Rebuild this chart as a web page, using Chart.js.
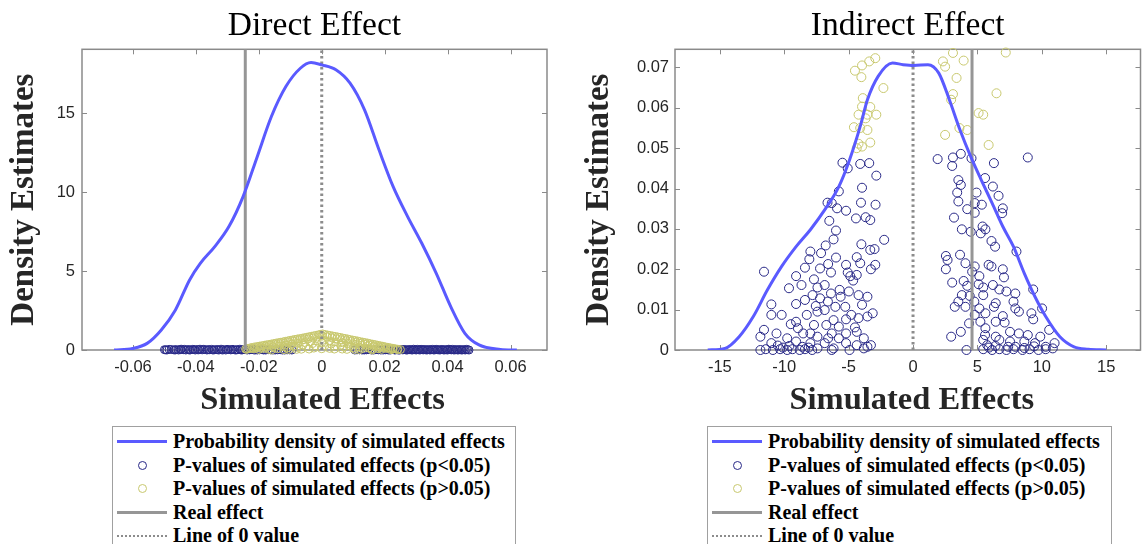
<!DOCTYPE html>
<html>
<head>
<meta charset="utf-8">
<script src="https://cdn.jsdelivr.net/npm/chart.js@4.4.1/dist/chart.umd.min.js"></script>
<style>
  body { margin: 0; background: #fff; width: 1146px; height: 544px; overflow: hidden; position: relative; }
  .panel { position: absolute; top: 0; }
  .legend { position: absolute; top: 426px; height: 140px; border: 1px solid #a0a0a0; background: #fff;
            box-sizing: border-box; padding-top: 3px; font-family: "Liberation Serif", serif;
            font-weight: bold; font-size: 20px; color: #000; }
  .legend .row { height: 23.5px; display: flex; align-items: center; white-space: nowrap; }
  .legend .smp { width: 50px; margin-left: 4px; margin-right: 6px; display: flex; justify-content: center; align-items: center; }
</style>
</head>
<body>
<canvas id="direct" class="panel" width="570" height="420" style="left:0"></canvas>
<canvas id="indirect" class="panel" width="571" height="420" style="left:575px"></canvas>
<div id="legDirect" class="legend" style="left:112px;width:404px"></div>
<div id="legIndirect" class="legend" style="left:707px;width:405px"></div>

<script>
// ---- Direct effect ----
const directTitle = "Direct Effect";
const directXRange = [-0.0762, 0.0716];
const directYMax = 19.05;
const directXTicks = [-0.06, -0.04, -0.02, 0, 0.02, 0.04, 0.06];
const directXTickLabels = ["-0.06", "-0.04", "-0.02", "0", "0.02", "0.04", "0.06"];
const directYTicks = [0, 5, 10, 15];
const directYTickLabels = ["0", "5", "10", "15"];
const directRealEffect = -0.0243;

// kernel density curve [x, density]
const directDensity = [
  [-0.0660, 0], [-0.0601, 0.10], [-0.0555, 0.42], [-0.0510, 1.27], [-0.0465, 2.54], [-0.0420, 4.44],
  [-0.0386, 5.49], [-0.0340, 6.55], [-0.0295, 7.82], [-0.0250, 9.72], [-0.0205, 12.25], [-0.0160, 14.79],
  [-0.0114, 16.69], [-0.0068, 17.85], [-0.0034, 18.21], [0.0000, 18.06], [0.0045, 17.75], [0.0090, 16.90],
  [0.0136, 15.21], [0.0182, 12.68], [0.0227, 10.35], [0.0273, 8.45], [0.0318, 6.76], [0.0364, 4.86],
  [0.0410, 2.75], [0.0455, 1.06], [0.0500, 0.32], [0.0568, 0.04], [0.0620, 0]
];

// simulated effects with p<0.05
const directSig = [
  [-0.0500, 0.02], [-0.0492, 0.00], [-0.0485, 0.04], [-0.0470, 0.01], [-0.0462, 0.03], [-0.0455, 0.00],
  [-0.0447, 0.05], [-0.0440, 0.02], [-0.0432, 0.00], [-0.0425, 0.03], [-0.0417, 0.01], [-0.0410, 0.04],
  [-0.0402, 0.00], [-0.0395, 0.02], [-0.0387, 0.05], [-0.0380, 0.01], [-0.0372, 0.03], [-0.0365, 0.00],
  [-0.0357, 0.02], [-0.0350, 0.04], [-0.0342, 0.01], [-0.0335, 0.03], [-0.0327, 0.00], [-0.0320, 0.05],
  [-0.0312, 0.02], [-0.0305, 0.00], [-0.0297, 0.03], [-0.0290, 0.01], [-0.0282, 0.04], [-0.0275, 0.00],
  [-0.0267, 0.02], [-0.0260, 0.05], [-0.0252, 0.01], [-0.0245, 0.03], [-0.0237, 0.00], [-0.0225, 0.02],
  [-0.0212, 0.00], [-0.0198, 0.01], [-0.0185, 0.00], [-0.0170, 0.02], [-0.0155, 0.00], [-0.0140, 0.01],
  [-0.0125, 0.00], [-0.0110, 0.01], [-0.0095, 0.00],
  [-0.0496, 0.01], [-0.0478, 0.03], [-0.0466, 0.00], [-0.0450, 0.02], [-0.0436, 0.04], [-0.0421, 0.00],
  [-0.0406, 0.03], [-0.0391, 0.01], [-0.0376, 0.04], [-0.0361, 0.02], [-0.0346, 0.00], [-0.0331, 0.02],
  [-0.0316, 0.00], [-0.0301, 0.04], [-0.0286, 0.02], [-0.0271, 0.01], [-0.0256, 0.00], [-0.0241, 0.02],
  [-0.0230, 0.01], [-0.0218, 0.03], [-0.0205, 0.00], [-0.0190, 0.02], [-0.0178, 0.00], [-0.0162, 0.01],
  [-0.0148, 0.00], [-0.0132, 0.02], [-0.0118, 0.00], [-0.0102, 0.01],
  [0.0105, 0.00], [0.0120, 0.01], [0.0135, 0.00], [0.0150, 0.02], [0.0165, 0.00], [0.0180, 0.01],
  [0.0195, 0.00], [0.0208, 0.02], [0.0218, 0.00], [0.0228, 0.03], [0.0236, 0.01], [0.0244, 0.00],
  [0.0252, 0.04], [0.0260, 0.02], [0.0268, 0.00], [0.0276, 0.03], [0.0284, 0.01], [0.0292, 0.05],
  [0.0300, 0.00], [0.0308, 0.02], [0.0316, 0.04], [0.0324, 0.01], [0.0332, 0.00], [0.0340, 0.03],
  [0.0348, 0.02], [0.0356, 0.00], [0.0364, 0.04], [0.0372, 0.01], [0.0380, 0.03], [0.0388, 0.00],
  [0.0396, 0.02], [0.0404, 0.05], [0.0412, 0.01], [0.0420, 0.00], [0.0428, 0.03], [0.0436, 0.01],
  [0.0444, 0.00], [0.0452, 0.02], [0.0460, 0.04], [0.0468, 0.00],
  [0.0112, 0.01], [0.0128, 0.00], [0.0142, 0.01], [0.0158, 0.00], [0.0172, 0.02], [0.0188, 0.00],
  [0.0202, 0.01], [0.0213, 0.00], [0.0223, 0.02], [0.0232, 0.00], [0.0240, 0.02], [0.0248, 0.00],
  [0.0256, 0.01], [0.0264, 0.03], [0.0272, 0.00], [0.0280, 0.02], [0.0288, 0.00], [0.0296, 0.02],
  [0.0304, 0.04], [0.0312, 0.00], [0.0320, 0.02], [0.0328, 0.03], [0.0336, 0.01], [0.0344, 0.00],
  [0.0352, 0.04], [0.0360, 0.01], [0.0368, 0.02], [0.0376, 0.00], [0.0384, 0.03], [0.0392, 0.01],
  [0.0400, 0.00], [0.0408, 0.02], [0.0416, 0.04], [0.0424, 0.01], [0.0432, 0.00], [0.0440, 0.03],
  [0.0448, 0.01], [0.0456, 0.00], [0.0464, 0.02]
];

// simulated effects with p>0.05
const directNonSig = [
  [-0.0242, 0.06], [-0.0235, 0.10], [-0.0228, 0.13], [-0.0220, 0.16], [-0.0212, 0.19], [-0.0205, 0.22],
  [-0.0197, 0.25], [-0.0190, 0.27], [-0.0182, 0.30], [-0.0175, 0.33], [-0.0167, 0.35], [-0.0160, 0.38],
  [-0.0152, 0.41], [-0.0145, 0.44], [-0.0137, 0.47], [-0.0130, 0.49], [-0.0122, 0.52], [-0.0115, 0.55],
  [-0.0107, 0.58], [-0.0100, 0.61], [-0.0092, 0.64], [-0.0085, 0.67], [-0.0077, 0.70], [-0.0070, 0.72],
  [-0.0062, 0.75], [-0.0055, 0.78], [-0.0047, 0.81], [-0.0040, 0.84], [-0.0032, 0.87], [-0.0025, 0.90],
  [-0.0017, 0.93], [-0.0010, 0.96], [-0.0004, 0.99], [0.0003, 1.02], [0.0010, 0.98], [0.0018, 0.95],
  [0.0026, 0.92], [0.0034, 0.89], [0.0042, 0.86], [0.0050, 0.83], [0.0058, 0.80], [0.0066, 0.76],
  [0.0074, 0.73], [0.0082, 0.70], [0.0090, 0.66], [0.0098, 0.63], [0.0106, 0.60], [0.0114, 0.57],
  [0.0122, 0.53], [0.0130, 0.50], [0.0138, 0.47], [0.0146, 0.44], [0.0154, 0.40], [0.0162, 0.37],
  [0.0170, 0.34], [0.0178, 0.30], [0.0186, 0.27], [0.0194, 0.24], [0.0202, 0.20], [0.0210, 0.17],
  [0.0218, 0.14], [0.0226, 0.11], [0.0234, 0.08], [0.0242, 0.05], [0.0250, 0.03],
  [-0.0238, 0.04], [-0.0224, 0.09], [-0.0208, 0.14], [-0.0193, 0.19], [-0.0178, 0.24], [-0.0163, 0.29],
  [-0.0148, 0.34], [-0.0133, 0.39], [-0.0118, 0.44], [-0.0103, 0.49], [-0.0088, 0.55], [-0.0073, 0.60],
  [-0.0058, 0.65], [-0.0043, 0.70], [-0.0028, 0.76], [-0.0013, 0.82], [0.0002, 0.88], [0.0017, 0.83],
  [0.0032, 0.77], [0.0047, 0.71], [0.0062, 0.65], [0.0077, 0.59], [0.0092, 0.54], [0.0107, 0.48],
  [0.0122, 0.42], [0.0137, 0.37], [0.0152, 0.31], [0.0167, 0.26], [0.0182, 0.21], [0.0197, 0.16],
  [0.0212, 0.11], [0.0227, 0.07], [0.0240, 0.03],
  [-0.0215, 0.08], [-0.0195, 0.12], [-0.0175, 0.17], [-0.0155, 0.22], [-0.0135, 0.27], [-0.0115, 0.32],
  [-0.0095, 0.38], [-0.0075, 0.43], [-0.0055, 0.48], [-0.0035, 0.53], [-0.0015, 0.58], [0.0005, 0.62],
  [0.0025, 0.57], [0.0045, 0.52], [0.0065, 0.46], [0.0085, 0.41], [0.0105, 0.36], [0.0125, 0.30],
  [0.0145, 0.25], [0.0165, 0.20], [0.0185, 0.15], [0.0205, 0.10], [0.0225, 0.06],
  [-0.0185, 0.10], [-0.0150, 0.14], [-0.0120, 0.20], [-0.0090, 0.25], [-0.0060, 0.32], [-0.0030, 0.40],
  [0.0000, 0.45], [0.0030, 0.38], [0.0060, 0.30], [0.0090, 0.24], [0.0120, 0.18], [0.0150, 0.12],
  [0.0180, 0.08],
  [-0.0200, 0.03], [-0.0170, 0.05], [-0.0140, 0.08], [-0.0110, 0.12], [-0.0080, 0.16], [-0.0050, 0.21],
  [-0.0020, 0.26], [0.0010, 0.28], [0.0040, 0.24], [0.0070, 0.19], [0.0100, 0.14], [0.0130, 0.10],
  [0.0160, 0.07], [0.0190, 0.04], [0.0220, 0.02],
  [-0.0160, 0.00], [-0.0120, 0.02], [-0.0080, 0.04], [-0.0040, 0.06], [0.0000, 0.08], [0.0040, 0.06],
  [0.0080, 0.04], [0.0120, 0.02], [0.0160, 0.00], [-0.0065, 0.05], [-0.0025, 0.12], [0.0025, 0.10],
  [0.0065, 0.06], [-0.0105, 0.03], [0.0105, 0.03]
];

// ---- Indirect effect ----
const indirectTitle = "Indirect Effect";
const indirectXRange = [-18.48, 17.66];
const indirectYMax = 0.0745;
const indirectXTicks = [-15, -10, -5, 0, 5, 10, 15];
const indirectXTickLabels = ["-15", "-10", "-5", "0", "5", "10", "15"];
const indirectYTicks = [0, 0.01, 0.02, 0.03, 0.04, 0.05, 0.06, 0.07];
const indirectYTickLabels = ["0", "0.01", "0.02", "0.03", "0.04", "0.05", "0.06", "0.07"];
const indirectRealEffect = 4.58;

const indirectDensity = [
  [-15.94, 0], [-14.6, 0.0004], [-13.5, 0.0033], [-12.4, 0.0083], [-11.3, 0.0149], [-10.2, 0.0207],
  [-9.08, 0.0256], [-7.97, 0.0298], [-6.86, 0.0347], [-5.76, 0.0405], [-4.93, 0.0471], [-4.10, 0.0554],
  [-3.54, 0.0620], [-2.71, 0.0678], [-1.60, 0.0711], [-0.77, 0.0707], [0.06, 0.0705], [1.16, 0.0707],
  [2.00, 0.0686], [2.82, 0.0620], [3.65, 0.0545], [4.48, 0.0479], [5.30, 0.0421], [6.14, 0.0364],
  [6.97, 0.0306], [7.80, 0.0256], [8.64, 0.0190], [9.47, 0.0132], [10.3, 0.0083], [11.4, 0.0033],
  [12.5, 0.0008], [13.6, 0.0002], [15.0, 0]
];

const indirectSig = [
  [-11.57, 0.0194], [-5.48, 0.0464], [-5.07, 0.0450], [-4.10, 0.0461], [-3.40, 0.0463], [-2.85, 0.0432],
  [-5.76, 0.0393], [-3.96, 0.0402], [-6.64, 0.0365], [-6.31, 0.0364], [-5.90, 0.0351], [-5.20, 0.0345],
  [-4.04, 0.0365], [-2.91, 0.0360], [-4.43, 0.0326], [-3.68, 0.0329], [-3.32, 0.0322], [-6.50, 0.0320],
  [-5.98, 0.0296], [-6.17, 0.0274], [-6.78, 0.0259], [-4.01, 0.0262], [-2.24, 0.0273], [-3.32, 0.0248],
  [-2.99, 0.0250], [-4.37, 0.0230], [-7.97, 0.0244], [-7.14, 0.0240], [-8.05, 0.0225], [-5.98, 0.0229],
  [-6.59, 0.0213], [-5.20, 0.0211], [-4.10, 0.0215], [-2.93, 0.0211], [-3.27, 0.0200], [-8.39, 0.0204],
  [-7.22, 0.0202], [-6.37, 0.0192], [-5.07, 0.0192], [-4.87, 0.0183], [-9.08, 0.0183], [-7.69, 0.0175],
  [-4.37, 0.0186], [-4.65, 0.0172], [-8.66, 0.0161], [-6.86, 0.0161], [-9.63, 0.0153], [-7.42, 0.0155],
  [-5.70, 0.0149], [-6.37, 0.0140], [-4.98, 0.0145], [-7.80, 0.0136], [-4.23, 0.0136], [-3.54, 0.0132],
  [-5.62, 0.0132], [-8.39, 0.0124], [-7.22, 0.0128], [-6.61, 0.0120], [-11.0, 0.0113], [-9.08, 0.0114],
  [-7.55, 0.0109], [-6.03, 0.0107], [-5.26, 0.0107], [-3.96, 0.0112], [-6.86, 0.0099], [-7.42, 0.0095],
  [-3.13, 0.0091], [-11.0, 0.0087], [-10.2, 0.0087], [-8.25, 0.0087], [-4.79, 0.0087], [-3.54, 0.0083],
  [-4.23, 0.0079], [-6.17, 0.0074], [-5.20, 0.0076], [-9.08, 0.0070], [-9.49, 0.0064], [-7.69, 0.0062],
  [-6.73, 0.0062], [-5.76, 0.0058], [-4.51, 0.0056], [-11.57, 0.0050], [-8.94, 0.0054], [-10.6, 0.0041],
  [-8.53, 0.0041], [-7.97, 0.0041], [-6.31, 0.0041], [-5.20, 0.0041], [-4.37, 0.0045], [-11.85, 0.0033],
  [-9.77, 0.0029], [-7.42, 0.0033], [-6.59, 0.0029], [-5.76, 0.0029], [-3.82, 0.0029], [-3.27, 0.0012],
  [-11.0, 0.0017], [-9.08, 0.0021], [-7.97, 0.0017], [-6.86, 0.0017], [-5.20, 0.0017], [-4.37, 0.0012],
  [-11.85, 0.0000], [-11.43, 0.0002], [-10.88, 0.0000], [-10.32, 0.0002], [-9.77, 0.0000], [-9.36, 0.0002],
  [-8.80, 0.0000], [-8.39, 0.0002], [-7.83, 0.0000], [-7.42, 0.0004], [-6.31, 0.0000], [-6.17, 0.0004],
  [-4.93, 0.0000], [-3.82, 0.0004], [-3.54, 0.0008], [-10.1, 0.0006], [-9.6, 0.0010], [-8.6, 0.0008],
  [-10.5, 0.0011], [-8.1, 0.0006],
  [1.91, 0.0473], [3.10, 0.0477], [3.71, 0.0486], [4.54, 0.0475], [8.91, 0.0477], [6.28, 0.0463],
  [3.04, 0.0456], [3.52, 0.0421], [5.59, 0.0426], [3.71, 0.0409], [6.20, 0.0405], [4.93, 0.0390],
  [6.64, 0.0382], [3.43, 0.0390], [4.79, 0.0364], [3.52, 0.0368], [5.34, 0.0360], [6.97, 0.0351],
  [6.92, 0.0339], [4.21, 0.0349], [4.79, 0.0340], [3.18, 0.0328], [5.40, 0.0306], [5.62, 0.0299],
  [3.79, 0.0299], [4.48, 0.0293], [5.26, 0.0289], [6.09, 0.0270], [6.37, 0.0256], [8.03, 0.0244],
  [2.55, 0.0233], [3.65, 0.0236], [2.68, 0.0223], [4.07, 0.0215], [5.87, 0.0211], [6.09, 0.0207],
  [4.79, 0.0207], [6.97, 0.0200], [2.55, 0.0200], [4.59, 0.0194], [5.15, 0.0183], [7.06, 0.0180],
  [3.93, 0.0171], [3.04, 0.0167], [5.09, 0.0163], [6.20, 0.0161], [4.21, 0.0159], [6.70, 0.0150],
  [9.33, 0.0150], [5.45, 0.0155], [7.25, 0.0145], [7.94, 0.0140], [3.79, 0.0136], [4.40, 0.0134],
  [5.45, 0.0136], [3.52, 0.0120], [4.76, 0.0120], [6.42, 0.0116], [7.80, 0.0120], [3.24, 0.0107],
  [4.07, 0.0107], [5.15, 0.0103], [6.28, 0.0107], [7.94, 0.0103], [10.02, 0.0103], [8.22, 0.0095],
  [4.79, 0.0087], [5.62, 0.0091], [6.97, 0.0084], [9.19, 0.0091], [5.23, 0.0070], [6.42, 0.0070],
  [7.11, 0.0068], [9.33, 0.0076], [4.35, 0.0066], [5.62, 0.0054], [7.53, 0.0045], [8.22, 0.0041],
  [10.57, 0.0050], [2.96, 0.0033], [3.71, 0.0045], [5.59, 0.0037], [6.42, 0.0033], [8.91, 0.0037],
  [9.88, 0.0033], [5.45, 0.0025], [6.70, 0.0025], [7.53, 0.0021], [8.64, 0.0021], [9.47, 0.0017],
  [10.99, 0.0017], [5.76, 0.0012], [7.94, 0.0008], [10.3, 0.0008],
  [4.15, 0.0000], [5.45, 0.0002], [6.14, 0.0000], [6.70, 0.0002], [7.25, 0.0000], [7.80, 0.0002],
  [8.50, 0.0000], [9.05, 0.0002], [9.74, 0.0000], [10.3, 0.0002], [10.85, 0.0004], [7.39, 0.0008],
  [8.64, 0.0005], [6.4, 0.0010], [9.4, 0.0009], [5.9, 0.0006]
];

const indirectNonSig = [
  [-4.51, 0.0692], [-3.96, 0.0705], [-3.40, 0.0715], [-2.93, 0.0723], [-4.01, 0.0676], [-2.30, 0.0649],
  [-3.90, 0.0624], [-3.96, 0.0603], [-3.32, 0.0602], [-4.23, 0.0583], [-3.54, 0.0583], [-2.85, 0.0583],
  [-3.68, 0.0574], [-4.59, 0.0552], [-4.10, 0.0550], [-3.54, 0.0545], [-3.32, 0.0514], [-4.23, 0.0511],
  [-3.96, 0.0504], [-4.37, 0.0500],
  [2.32, 0.0715], [2.49, 0.0702], [3.10, 0.0736], [3.93, 0.0717], [7.20, 0.0737], [3.38, 0.0674],
  [3.10, 0.0634], [2.96, 0.0620], [6.48, 0.0636], [3.60, 0.0550], [4.21, 0.0545], [2.49, 0.0533],
  [5.09, 0.0587], [5.45, 0.0583], [5.87, 0.0508]
];

const legendLabels = [
  "Probability density of simulated effects",
  "P-values of simulated effects (p<0.05)",
  "P-values of simulated effects (p>0.05)",
  "Real effect",
  "Line of 0 value"
];

const COL_DENSITY = "rgb(90,90,255)";
const COL_SIG = "rgb(40,40,135)";
const COL_NONSIG = "rgb(200,200,110)";
const COL_REAL = "rgb(150,150,150)";
const COL_ZERO = "rgb(140,140,140)";
const COL_AXIS = "#8a8a8a";

const toXY = arr => arr.map(p => ({ x: p[0], y: p[1] }));

// box round the plot and inward ticks on all four sides, like a MATLAB axes
const boxPlugin = {
  id: "box",
  beforeDatasetsDraw(chart) {
    const { ctx, chartArea: a, scales } = chart;
    ctx.save();
    ctx.strokeStyle = COL_AXIS;
    ctx.lineWidth = 1.5;
    ctx.strokeRect(a.left, a.top, a.right - a.left, a.bottom - a.top);
    ctx.lineWidth = 1;
    ctx.beginPath();
    scales.x.ticks.forEach(t => {
      const px = Math.round(scales.x.getPixelForValue(t.value)) + 0.5;
      ctx.moveTo(px, a.bottom); ctx.lineTo(px, a.bottom - 5);
      ctx.moveTo(px, a.top); ctx.lineTo(px, a.top + 5);
    });
    scales.y.ticks.forEach(t => {
      const py = Math.round(scales.y.getPixelForValue(t.value)) + 0.5;
      ctx.moveTo(a.left, py); ctx.lineTo(a.left + 5, py);
      ctx.moveTo(a.right, py); ctx.lineTo(a.right - 5, py);
    });
    ctx.stroke();
    ctx.restore();
  }
};

function makePanel(id, o) {
  const datasets = [
    { label: legendLabels[0], data: toXY(o.density), showLine: true, borderColor: COL_DENSITY,
      borderWidth: 3, pointRadius: 0, cubicInterpolationMode: "monotone", order: 0 },
    { label: legendLabels[1], data: toXY(o.sig), borderColor: COL_SIG, backgroundColor: "rgba(0,0,0,0)",
      borderWidth: 1, pointRadius: o.radius, clip: false, order: 4 },
    { label: legendLabels[2], data: toXY(o.nonSig), borderColor: COL_NONSIG, backgroundColor: "rgba(0,0,0,0)",
      borderWidth: 1, pointRadius: o.radius, clip: false, order: 3 },
    { label: legendLabels[3], data: [{ x: o.real, y: 0 }, { x: o.real, y: o.yMax }], showLine: true,
      borderColor: COL_REAL, borderWidth: 3, pointRadius: 0, order: 1 },
    { label: legendLabels[4], data: [{ x: 0, y: 0 }, { x: 0, y: o.yMax }], showLine: true,
      borderColor: COL_ZERO, borderWidth: 3, borderDash: [2.5, 3], pointRadius: 0, order: 2 }
  ];

  const chart = new Chart(document.getElementById(id), {
    type: "scatter",
    data: { datasets },
    options: {
      responsive: false,
      animation: false,
      devicePixelRatio: 1,
      layout: { padding: { right: o.rightPad } },
      plugins: {
        legend: { display: false },
        tooltip: { enabled: false },
        title: {
          display: true, text: o.title, fullSize: false, color: "#000",
          font: { family: "Liberation Serif", size: 33.5, weight: "normal", lineHeight: 1.2 },
          padding: { top: 6, bottom: 3.1 }
        }
      },
      scales: {
        x: {
          type: "linear", min: o.xRange[0], max: o.xRange[1],
          grid: { display: false, drawTicks: false }, border: { display: false },
          afterBuildTicks: s => { s.ticks = o.xTicks.map(v => ({ value: v })); },
          afterFit: s => { s.height = 70; },
          ticks: { padding: 8, color: "#262626", maxRotation: 0, autoSkip: false,
                   font: { family: "Liberation Sans", size: 16.5 },
                   callback: (v, i) => o.xTickLabels[i] },
          title: { display: true, text: o.xTitle, color: "#262626",
                   font: { family: "Liberation Serif", size: 32.5, weight: "bold", lineHeight: 1 },
                   padding: { top: 0, bottom: 3 } }
        },
        y: {
          type: "linear", min: 0, max: o.yMax,
          grid: { display: false, drawTicks: false }, border: { display: false },
          afterBuildTicks: s => { s.ticks = o.yTicks.map(v => ({ value: v })); },
          afterFit: s => { s.width = o.yWidth; },
          ticks: { padding: o.yTickPad, color: "#262626", autoSkip: false,
                   font: { family: "Liberation Sans", size: 16.5 },
                   callback: (v, i) => o.yTickLabels[i] },
          title: { display: true, text: "Density Estimates", color: "#262626",
                   font: { family: "Liberation Serif", size: 33, weight: "bold", lineHeight: 1 },
                   padding: { top: 7.5, bottom: 0 } }
        }
      }
    },
    plugins: [boxPlugin]
  });
  return chart;
}

function buildLegend(divId, chart) {
  const div = document.getElementById(divId);
  chart.data.datasets.forEach(ds => {
    const row = document.createElement("div");
    row.className = "row";
    const smp = document.createElement("span");
    smp.className = "smp";
    const mark = document.createElement("span");
    if (ds.showLine) {
      mark.style.width = "50px";
      mark.style.borderTop = ds.borderDash ? "2px dotted " + ds.borderColor : "3px solid " + ds.borderColor;
    } else {
      mark.style.width = "7px";
      mark.style.height = "7px";
      mark.style.border = "1px solid " + ds.borderColor;
      mark.style.borderRadius = "50%";
    }
    smp.appendChild(mark);
    const txt = document.createElement("span");
    txt.textContent = ds.label;
    row.appendChild(smp);
    row.appendChild(txt);
    div.appendChild(row);
  });
}

const directChart = makePanel("direct", {
  title: directTitle, xTitle: "\u00a0\u00a0Simulated Effects",
  density: directDensity, sig: directSig, nonSig: directNonSig, real: directRealEffect,
  xRange: directXRange, yMax: directYMax, xTicks: directXTicks, xTickLabels: directXTickLabels,
  yTicks: directYTicks, yTickLabels: directYTickLabels,
  radius: 4, yWidth: 82, yTickPad: 7, rightPad: 23
});
const indirectChart = makePanel("indirect", {
  title: indirectTitle, xTitle: "\u00a0Simulated Effects",
  density: indirectDensity, sig: indirectSig, nonSig: indirectNonSig, real: indirectRealEffect,
  xRange: indirectXRange, yMax: indirectYMax, xTicks: indirectXTicks, xTickLabels: indirectXTickLabels,
  yTicks: indirectYTicks, yTickLabels: indirectYTickLabels,
  radius: 4.5, yWidth: 100, yTickPad: 6, rightPad: 4
});
buildLegend("legDirect", directChart);
buildLegend("legIndirect", indirectChart);
</script>
</body>
</html>
